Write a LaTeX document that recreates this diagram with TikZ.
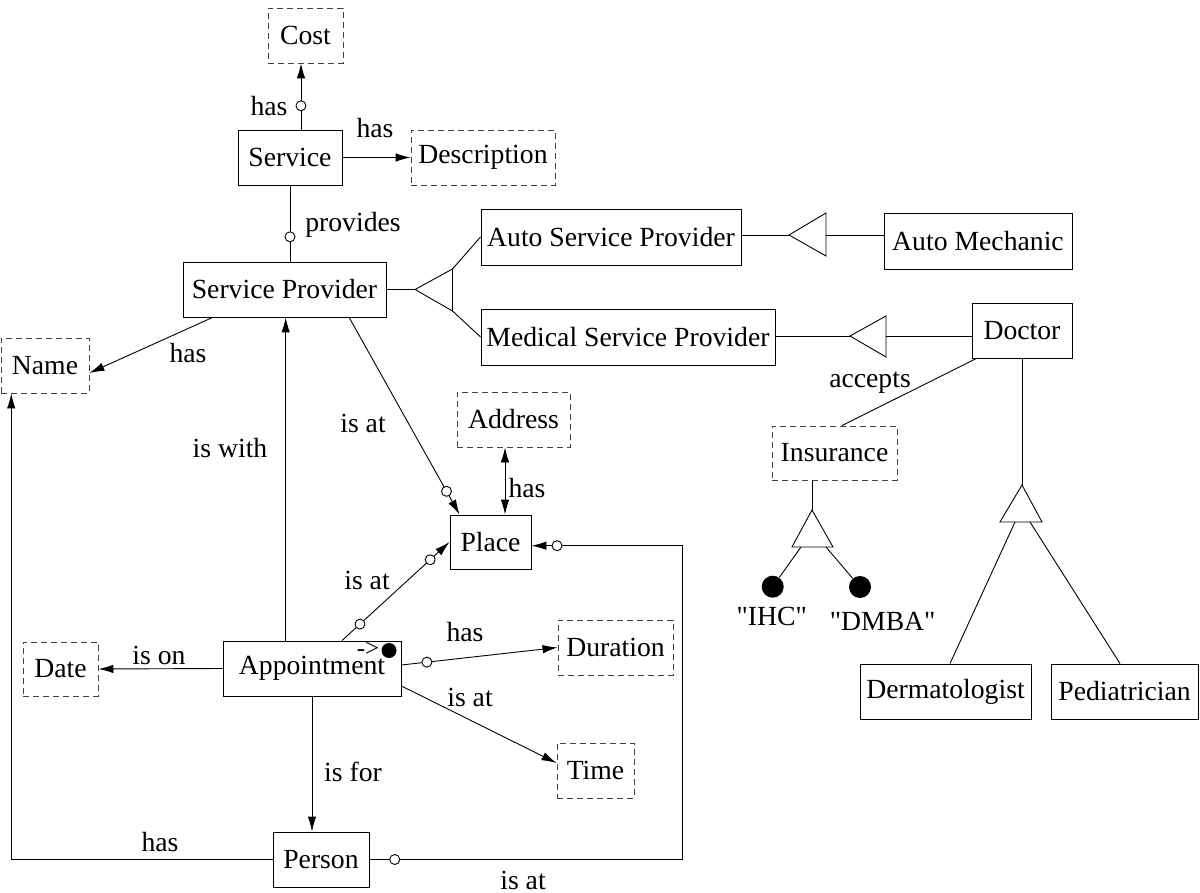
\documentclass[tikz,border=0pt]{standalone}
\usepackage{fontspec}
\setmainfont{Liberation Serif}
\newfontfamily\plainq{Liberation Serif}
\usetikzlibrary{arrows.meta}
\begin{document}
\begin{tikzpicture}[x=1pt,y=-1pt,
  font=\fontsize{27.7}{30}\selectfont,
  line width=0.9pt,
  ent/.style={draw, minimum height=55pt, inner sep=0pt, anchor=center},
  lexbox/.style={dash pattern=on 6pt off 4pt, draw=black!75},
  lbl/.style={inner sep=0pt},
  oc/.style={circle, draw, fill=white, solid, inner sep=0pt, minimum size=10pt},
  dot/.style={circle, fill=black, inner sep=0pt, minimum size=22pt},
  arr/.style={-{Latex[length=15pt,width=8.5pt]}},
  arrs/.style={{Latex[length=15pt,width=8.5pt]}-{Latex[length=15pt,width=8.5pt]}}]
\useasboundingbox (0,0) rectangle (1200,893);

% object sets (solid) and lexical sets (dashed)
\node[ent,lexbox,minimum width=75pt] (cost) at (305.5,35.5) {Cost};
\node[ent,minimum width=104pt] (svc) at (290,157.5) {Service};
\node[ent,lexbox,minimum width=144pt] (desc) at (483,157.5) {Description};
\node[ent,minimum width=203pt] (sp) at (284.5,289.5) {Service Provider};
\node[ent,minimum width=260pt,minimum height=56pt] (asp) at (611,237) {Auto Service Provider};
\node[ent,minimum width=294pt,minimum height=56pt] (msp) at (628,337) {Medical Service Provider};
\node[ent,minimum width=188pt,minimum height=56pt] (am) at (978,241) {Auto Mechanic};
\node[ent,minimum width=100pt] (doc) at (1022,330.5) {Doctor};
\node[ent,lexbox,minimum width=88pt] (name) at (45,365.5) {Name};
\node[ent,lexbox,minimum width=113pt] (addr) at (513.5,419.5) {Address};
\node[ent,lexbox,minimum width=125pt,minimum height=54pt] (ins) at (834.5,453) {Insurance};
\node[ent,minimum width=81pt,minimum height=54pt] (place) at (490.5,542) {Place};
\node[ent,lexbox,minimum width=75pt,minimum height=54pt] (date) at (60.5,669) {Date};
\node[ent,minimum width=178pt] (appt) at (312,668.5) {Appointment};
\node[ent,lexbox,minimum width=115pt] (dur) at (615.5,647.5) {Duration};
\node[ent,lexbox,minimum width=77pt] (time) at (595.5,770.5) {Time};
\node[ent,minimum width=96pt] (person) at (321,859.5) {Person};
\node[ent,minimum width=171pt] (derm) at (945.5,691.5) {Dermatologist};
\node[ent,minimum width=147pt] (ped) at (1124.5,691.5) {Pediatrician};

% Service relationships
\draw[arr] ([xshift=11pt]svc.north) -- ([xshift=-4.5pt]cost.south) node[oc,pos=0.36] {};
\node[lbl] at (269,106) {has};
\draw[arr] (svc.east) -- (desc.west);
\node[lbl] at (375,128) {has};
\draw (svc.south) coordinate (pv) -- (pv |- sp.north) node[oc,pos=0.675] {};
\node[lbl] at (353,225) {provides};

% Service Provider specialization
\coordinate (t1a) at (415,289.5);
\coordinate (t1t) at (452.5,269);
\coordinate (t1b) at (452.5,311);
\draw (sp.east) -- (t1a);
\draw (t1a) -- (t1t) -- (t1b) -- cycle;
\draw (t1t) -- (asp.west);
\draw (t1b) -- (msp.west);

% Auto Mechanic specialization
\coordinate (t2a) at (789,235);
\coordinate (t2t) at (826,213);
\coordinate (t2b) at (826,256);
\coordinate (t2m) at (826,235);
\draw (asp.east |- t2a) -- (t2a);
\draw (t2a) -- (t2t) -- (t2b) -- cycle;
\draw (t2m) -- (am.west |- t2m);

% Doctor specialization
\coordinate (t3a) at (850,336);
\coordinate (t3t) at (886,316);
\coordinate (t3b) at (886,357);
\coordinate (t3m) at (886,336);
\draw (msp.east |- t3a) -- (t3a);
\draw (t3a) -- (t3t) -- (t3b) -- cycle;
\draw (t3m) -- (doc.west |- t3m);

% Doctor accepts Insurance
\draw ([xshift=5pt]doc.south west) -- ([xshift=7.5pt]ins.north);
\node[lbl] at (870,383) {accepts};

% Insurance values
\coordinate (t4a) at (812,510);
\coordinate (t4l) at (792,547);
\coordinate (t4r) at (833,547);
\coordinate (t4p) at (801,547);
\coordinate (t4q) at (826,547);
\draw ([xshift=-22.5pt]ins.south) -- (t4a);
\draw (t4a) -- (t4l) -- (t4r) -- cycle;
\node[dot] (ihc) at (772.7,586.7) {};
\node[dot] (dmba) at (860,587) {};
\draw (t4p) -- (ihc);
\draw (t4q) -- (dmba);
\node[lbl] at (771.7,616.7) {\plainq "IHC"};
\node[lbl] at (882.7,621.7) {\plainq "DMBA"};

% Doctor subclasses
\coordinate (t5a) at (1022,485);
\coordinate (t5l) at (1000,522);
\coordinate (t5r) at (1042,522);
\coordinate (t5p) at (1015,522);
\coordinate (t5q) at (1030,522);
\draw (doc.south) -- (t5a);
\draw (t5a) -- (t5l) -- (t5r) -- cycle;
\draw (t5p) -- ([xshift=4.5pt]derm.north);
\draw (t5q) -- ([xshift=-4.5pt]ped.north);

% Service Provider has Name, is at Place
\draw[arr] ([xshift=30pt]sp.south west) -- ([yshift=-7.5pt]name.east);
\node[lbl] at (188,353) {has};
\draw[arr] ([xshift=-37.3pt]sp.south east) -- ([xshift=10pt]place.north west) node[oc,pos=0.882] {};
\node[lbl] at (363,423) {is at};

% Place has Address
\draw[arrs] ([xshift=-8.5pt]addr.south) -- ([xshift=14.5pt]place.north);
\node[lbl] at (527,488) {has};

% Appointment relationships
\draw[arr] ([xshift=30pt]appt.north) -- (place.west)
  node[oc,pos=0.167] {} node[oc,pos=0.82] {};
\node[lbl] at (367,580) {is at};
\draw[arr] ([xshift=-26.3pt]appt.north) coordinate (iw) -- (iw |- sp.south);
\node[lbl] at (230,448) {is with};
\draw[arr] (appt.west) -- (date.east);
\node[lbl] at (159,655) {is on};
\draw[arr] ([yshift=3.5pt]appt.east) -- (dur.west) node[oc,pos=0.163] {};
\node[lbl] at (465,632) {has};
\draw[arr] ([yshift=-17.5pt]appt.east) -- ([yshift=7.5pt]time.west);
\node[lbl] at (470,697) {is at};
\draw[arr] (appt.south) coordinate (af) -- (af |- person.north);
\node[lbl] at (353,772) {is for};
\node[lbl,font=\fontsize{25}{27}\selectfont] at (368,649.5) {->};
\node[circle, fill=black, inner sep=0pt, minimum size=15pt] (apk) at (389,650.5) {};

% Person has Name, is at Place
\draw[arr] (person.west) -| ([xshift=10.7pt]name.south west);
\node[lbl] at (160,842) {has};
\coordinate (pr) at (682,859.5);
\draw (person.east) -- (pr) node[oc,pos=0.081] {};
\draw[arr] (pr) -- (pr |- 0,545.7) -- ([yshift=-3.7pt]place.east) node[oc,pos=0.83] {};
\node[lbl] at (523,880) {is at};
\end{tikzpicture}
\end{document}
